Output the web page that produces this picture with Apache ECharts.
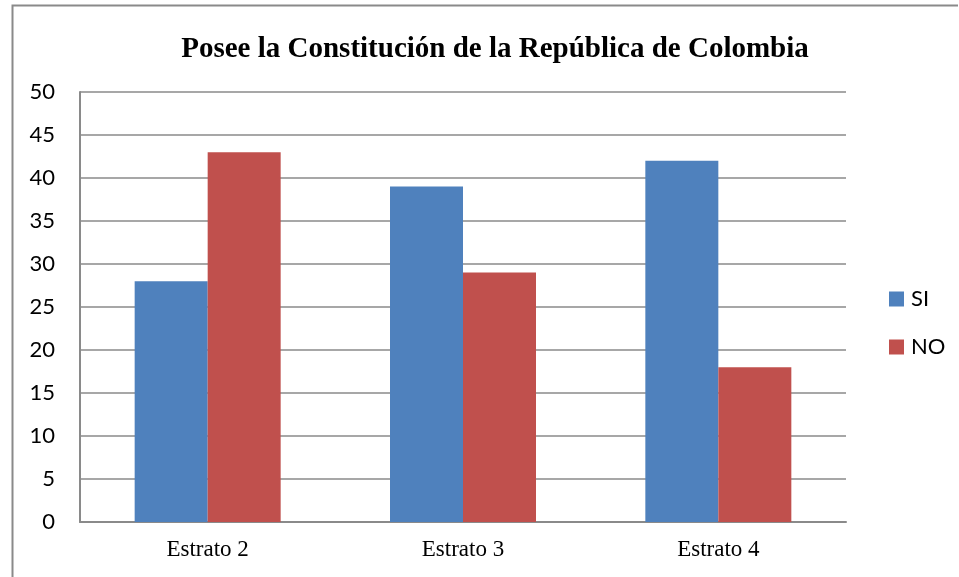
<!DOCTYPE html>
<html>
<head>
<meta charset="utf-8">
<script src="https://cdn.jsdelivr.net/npm/echarts@6/dist/echarts.min.js"></script>
<style>
html,body{margin:0;padding:0;background:#fff;}
#c{width:959px;height:577px;}
</style>
</head>
<body>
<div id="c"></div>
<script>
var categories = ['Estrato 2', 'Estrato 3', 'Estrato 4'];
var siValues = [28, 39, 42];
var noValues = [43, 29, 18];
var yTicks = { min: 0, max: 50, interval: 5 };

var chart = echarts.init(document.getElementById('c'), null, { renderer: 'canvas' });
chart.setOption({
  animation: false,
  backgroundColor: '#ffffff',
  title: {
    text: 'Posee la Constitución de la República de Colombia',
    left: 490, top: 30, textAlign: 'center',
    textStyle: { fontFamily: 'Liberation Serif', fontWeight: 'bold', fontSize: 29, color: '#000' }
  },
  graphic: [{
    type: 'polyline',
    shape: { points: [[12.5, 600], [12.5, 5.5], [958, 5.5]] },
    style: { stroke: '#8a8a8a', lineWidth: 2, fill: null },
    silent: true
  }],
  legend: {
    orient: 'vertical',
    left: 884, top: 283,
    itemWidth: 15, itemHeight: 15, itemGap: 26,
    icon: 'rect',
    textStyle: { fontFamily: 'Lato', fontSize: 22, color: '#000', padding: [0, 0, 0, 2] },
    data: ['SI', 'NO']
  },
  grid: { left: 80, right: 113, top: 92, bottom: 55, containLabel: false },
  xAxis: {
    type: 'category',
    data: categories,
    axisLine: { lineStyle: { color: '#8a8a8a', width: 2 } },
    axisTick: { show: false },
    axisLabel: { fontFamily: 'Liberation Serif', fontSize: 23, color: '#000', margin: 16 }
  },
  yAxis: {
    type: 'value',
    min: yTicks.min, max: yTicks.max, interval: yTicks.interval,
    axisLine: { show: true, lineStyle: { color: '#8a8a8a', width: 2 } },
    axisTick: { show: false },
    splitLine: { lineStyle: { color: '#8a8a8a', width: 1.5 } },
    axisLabel: { fontFamily: 'Lato', fontSize: 22, color: '#000', margin: 25 }
  },
  series: [
    { name: 'SI', type: 'bar', data: siValues, barWidth: 73, barGap: '0%',
      itemStyle: { color: '#4f81bd' } },
    { name: 'NO', type: 'bar', data: noValues, barWidth: 73, barGap: '0%',
      itemStyle: { color: '#c0504d' } }
  ]
});
</script>
</body>
</html>
